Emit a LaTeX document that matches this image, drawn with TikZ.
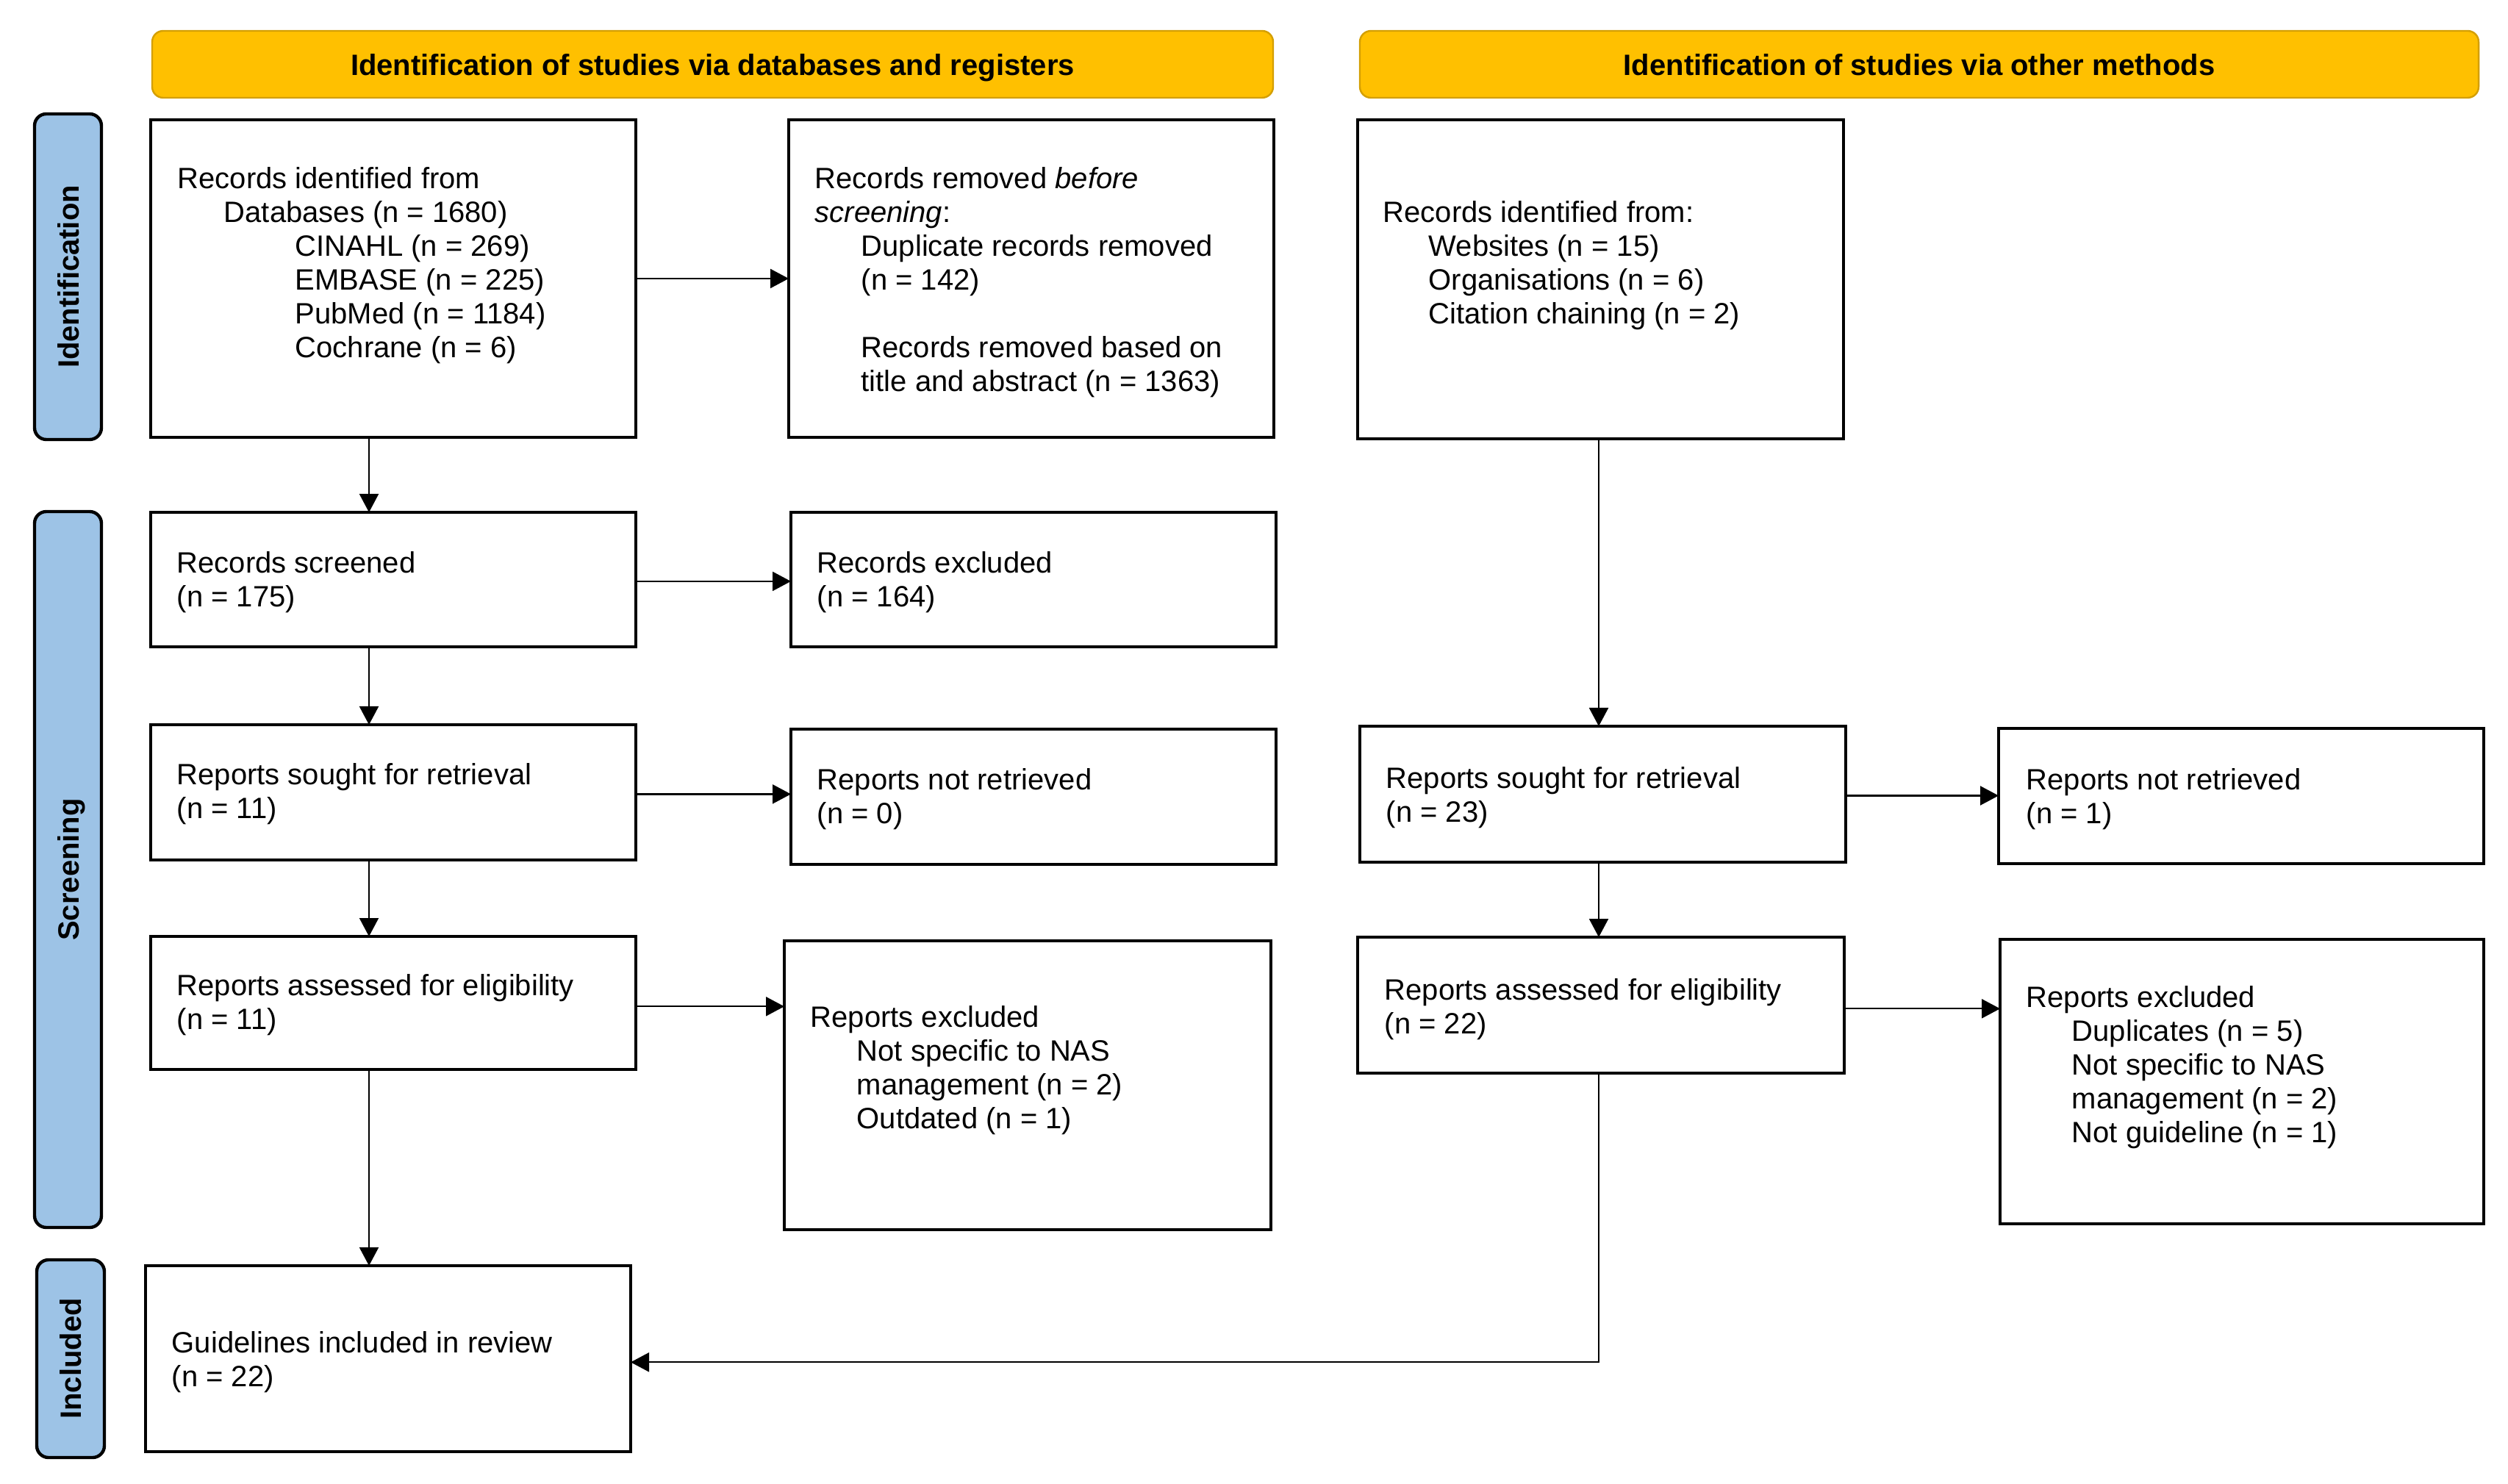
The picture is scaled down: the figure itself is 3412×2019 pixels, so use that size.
\documentclass[tikz,border=0pt]{standalone}
\usepackage{fontspec}
\setmainfont{Liberation Sans}
\usetikzlibrary{arrows.meta}
\definecolor{hdr}{HTML}{FFC000}
\definecolor{hdrline}{HTML}{D49F00}
\definecolor{side}{HTML}{9DC3E6}
\newcommand{\bx}[5]{\node[box,minimum width={(#4-#2)*0.25pt},minimum height={(#5-#3)*0.25pt}] (#1) at (#2,#3) {};}
\newcommand{\hd}[5]{\node[hdrbox,minimum width={(#4-#2)*0.25pt},minimum height={(#5-#3)*0.25pt}] (#1) at (#2,#3) {};}
\newcommand{\sd}[5]{\node[sidebox,minimum width={(#4-#2)*0.25pt},minimum height={(#5-#3)*0.25pt}] (#1) at (#2,#3) {};}
\begin{document}
\begin{tikzpicture}[x=0.25pt,y=-0.25pt,
  box/.style={draw=black,line width=1pt,fill=white,anchor=north west,inner sep=0pt,outer sep=0pt},
  hdrbox/.style={draw=hdrline,line width=0.6pt,fill=hdr,rounded corners=3.75pt,anchor=north west,inner sep=0pt,outer sep=0pt},
  sidebox/.style={draw=black,line width=1.1pt,fill=side,rounded corners=4pt,anchor=north west,inner sep=0pt,outer sep=0pt},
  txt/.style={anchor=base west,inner sep=0pt,font=\fontsize{10}{11.5}\selectfont},
  hdrtxt/.style={inner sep=0pt,text height=7.3pt,text depth=0pt,font=\fontsize{10}{11.5}\selectfont\bfseries},
  sidetxt/.style={inner sep=0pt,rotate=90,text height=7.3pt,text depth=0pt,font=\fontsize{10}{11.5}\selectfont\bfseries},
  arr/.style={-{Triangle[length=6.25pt,width=6.5pt]},line width=0.55pt}]
\useasboundingbox (0,0) rectangle (3412,2019);
% headers
\hd{H1}{207}{42}{1732}{133}
\hd{H2}{1850}{42}{3372}{133}
\node[hdrtxt] (H1t) at (H1.center) {Identification of studies via databases and registers};
\node[hdrtxt] (H2t) at (H2.center) {Identification of studies via other methods};
% side bars
\sd{S1}{47}{155}{138}{598}
\sd{S2}{47}{696}{138}{1670}
\sd{S3}{50}{1714}{142}{1983}
\node[sidetxt] (S1t) at (S1.center) {Identification};
\node[sidetxt] (S2t) at (S2.center) {Screening};
\node[sidetxt] (S3t) at (S3.center) {Included};
% boxes
\bx{A}{205}{163}{865}{595}
\bx{B}{1073}{163}{1733}{595}
\bx{C}{1847}{163}{2508}{597}
\bx{D}{205}{697}{865}{880}
\bx{E}{1076}{697}{1736}{880}
\bx{F}{205}{986}{865}{1170}
\bx{G}{1076}{992}{1736}{1176}
\bx{H}{205}{1274}{865}{1455}
\bx{I}{1067}{1280}{1729}{1673}
\bx{J}{1850}{988}{2511}{1173}
\bx{K}{2719}{991}{3379}{1175}
\bx{L}{1847}{1275}{2509}{1460}
\bx{M}{2721}{1278}{3379}{1665}
\bx{N}{198}{1722}{858}{1975}
% texts
\node[txt] (At) at (241,257) {\begin{tabular}[t]{@{}l@{}}Records identified from\\
\hspace*{15.75pt}Databases (n = 1680)\\
\hspace*{40pt}CINAHL (n = 269)\\
\hspace*{40pt}EMBASE (n = 225)\\
\hspace*{40pt}PubMed (n = 1184)\\
\hspace*{40pt}Cochrane (n = 6)\end{tabular}};
\node[txt] (Bt) at (1108,257) {\begin{tabular}[t]{@{}l@{}}Records removed \textit{before}\\
\textit{screening}:\\
\hspace*{15.75pt}Duplicate records removed\\
\hspace*{15.75pt}(n = 142)\\
\\
\hspace*{15.75pt}Records removed based on\\
\hspace*{15.75pt}title and abstract (n = 1363)\end{tabular}};
\node[txt] (Ct) at (1881,303) {\begin{tabular}[t]{@{}l@{}}Records identified from:\\
\hspace*{15.5pt}Websites (n = 15)\\
\hspace*{15.5pt}Organisations (n = 6)\\
\hspace*{15.5pt}Citation chaining (n = 2)\end{tabular}};
\node[txt] (Dt) at (240,780) {\begin{tabular}[t]{@{}l@{}}Records screened\\(n = 175)\end{tabular}};
\node[txt] (Et) at (1111,780) {\begin{tabular}[t]{@{}l@{}}Records excluded\\(n = 164)\end{tabular}};
\node[txt] (Ft) at (240,1067) {\begin{tabular}[t]{@{}l@{}}Reports sought for retrieval\\(n = 11)\end{tabular}};
\node[txt] (Gt) at (1111,1074) {\begin{tabular}[t]{@{}l@{}}Reports not retrieved\\(n = 0)\end{tabular}};
\node[txt] (Ht) at (240,1354) {\begin{tabular}[t]{@{}l@{}}Reports assessed for eligibility\\(n = 11)\end{tabular}};
\node[txt] (It) at (1102,1397) {\begin{tabular}[t]{@{}l@{}}Reports excluded\\
\hspace*{15.75pt}Not specific to NAS\\
\hspace*{15.75pt}management (n = 2)\\
\hspace*{15.75pt}Outdated (n = 1)\end{tabular}};
\node[txt] (Jt) at (1885,1072) {\begin{tabular}[t]{@{}l@{}}Reports sought for retrieval\\(n = 23)\end{tabular}};
\node[txt] (Kt) at (2756,1074) {\begin{tabular}[t]{@{}l@{}}Reports not retrieved\\(n = 1)\end{tabular}};
\node[txt] (Lt) at (1883,1360) {\begin{tabular}[t]{@{}l@{}}Reports assessed for eligibility\\(n = 22)\end{tabular}};
\node[txt] (Mt) at (2756,1370) {\begin{tabular}[t]{@{}l@{}}Reports excluded\\
\hspace*{15.5pt}Duplicates (n = 5)\\
\hspace*{15.5pt}Not specific to NAS\\
\hspace*{15.5pt}management (n = 2)\\
\hspace*{15.5pt}Not guideline (n = 1)\end{tabular}};
\node[txt] (Nt) at (233,1840) {\begin{tabular}[t]{@{}l@{}}Guidelines included in review\\(n = 22)\end{tabular}};
% connectors
\coordinate (lc) at (502,0);
\coordinate (rc) at (2175,0);
\draw[arr] (A.east) -- (A.east -| B.west);
\draw[arr] (A.south -| lc) -- (D.north -| lc);
\draw[arr] ([yshift=-0.6pt]D.east) -- ([yshift=-0.6pt]D.east -| E.west);
\draw[arr] (D.south -| lc) -- (F.north -| lc);
\draw[arr] ([yshift=-0.6pt]F.east) -- ([yshift=-0.6pt]F.east -| G.west);
\draw[arr] (F.south -| lc) -- (H.north -| lc);
\draw[arr] ([yshift=-1.2pt]H.east) -- ([yshift=-1.2pt]H.east -| I.west);
\draw[arr] (H.south -| lc) -- (N.north -| lc);
\draw[arr] (C.south -| rc) -- (J.north -| rc);
\draw[arr] ([yshift=-0.5pt]J.east) -- ([yshift=-0.5pt]J.east -| K.west);
\draw[arr] (J.south -| rc) -- (L.north -| rc);
\draw[arr] ([yshift=-1.2pt]L.east) -- ([yshift=-1.2pt]L.east -| M.west);
\draw[arr] (L.south -| rc) |- ([yshift=-1.2pt]N.east);
\end{tikzpicture}
\end{document}
